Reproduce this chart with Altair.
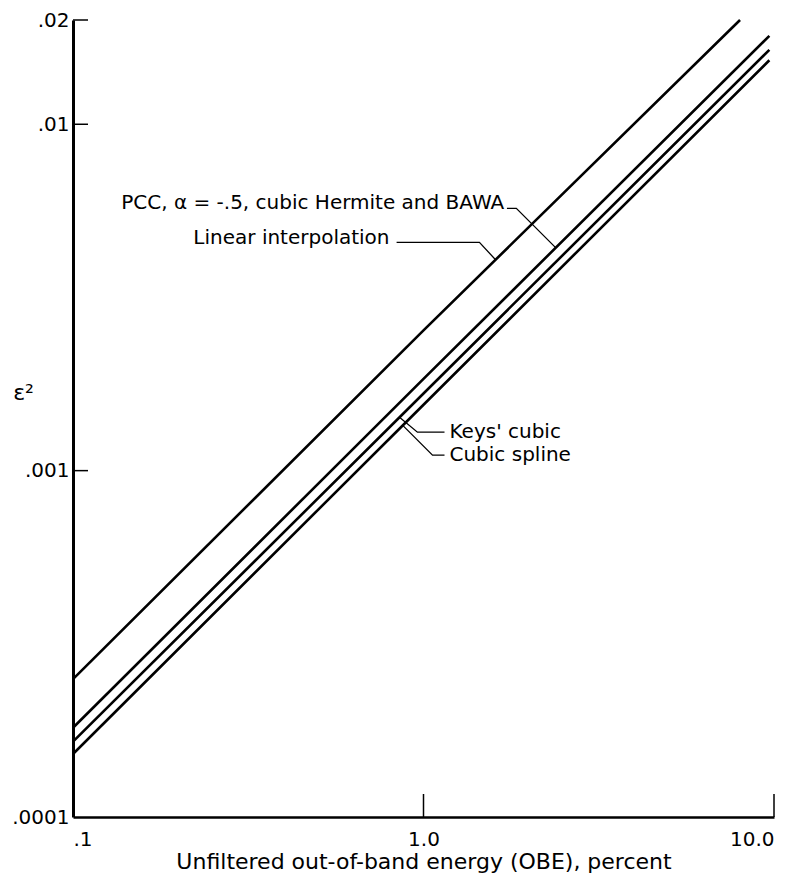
import altair as alt
import pandas as pd

# ---- data ----
series_names = ["Linear interpolation", "PCC", "Keys' cubic", "Cubic spline"]
linear_x = [0.1, 1.0, 8.0]
linear_y = [2.50e-4, 2.54e-3, 2.00e-2]
pcc_x = [0.1, 1.0, 9.7]
pcc_y = [1.81e-4, 1.84e-3, 1.80e-2]
keys_x = [0.1, 1.0, 9.7]
keys_y = [1.65e-4, 1.67e-3, 1.64e-2]
spline_x = [0.1, 1.0, 9.7]
spline_y = [1.52e-4, 1.55e-3, 1.53e-2]

x_ticks = [0.1, 1.0, 10.0]
y_ticks = [0.0001, 0.001, 0.01, 0.02]
x_inner_ticks = [1.0, 10.0]
y_inner_ticks = [0.001, 0.01, 0.02]

# annotation labels (data units)
label_right_text = ["PCC, α = -.5, cubic Hermite and BAWA", "Linear interpolation"]
label_right_x = [1.70, 0.80]
label_right_y = [5.92e-3, 4.69e-3]
label_left_text = ["Keys' cubic", "Cubic spline"]
label_left_x = [1.186, 1.186]
label_left_y = [1.291e-3, 1.108e-3]

# leader lines (data units)
leader_ids = ["pcc", "lin", "keys", "spl"]
leader_x = [[1.73, 1.84, 2.39], [0.838, 1.444, 1.603],
            [0.854, 0.961, 1.148], [0.871, 1.061, 1.148]]
leader_y = [[5.72e-3, 5.72e-3, 4.39e-3], [4.56e-3, 4.56e-3, 4.07e-3],
            [1.427e-3, 1.291e-3, 1.291e-3], [1.353e-3, 1.108e-3, 1.108e-3]]

FONT = "DejaVu Sans"

rows = []
for name, xs, ys in zip(series_names, [linear_x, pcc_x, keys_x, spline_x],
                        [linear_y, pcc_y, keys_y, spline_y]):
    for i, (a, b) in enumerate(zip(xs, ys)):
        rows.append({"series": name, "i": i, "x": a, "y": b})
lines_df = pd.DataFrame(rows)

lrows = []
for lid, xs, ys in zip(leader_ids, leader_x, leader_y):
    for i, (a, b) in enumerate(zip(xs, ys)):
        lrows.append({"id": lid, "i": i, "x": a, "y": b})
leader_df = pd.DataFrame(lrows)

x_scale = alt.Scale(type="log", domain=[0.1, 10], nice=False)
y_scale = alt.Scale(type="log", domain=[0.0001, 0.02], nice=False)

x_axis = alt.Axis(
    values=x_ticks,
    labelExpr="datum.value < 0.5 ? '.1' : datum.value < 5 ? '1.0' : '10.0'",
    ticks=False, grid=False, domainColor="black", domainWidth=2.5,
    labelFont=FONT, labelFontSize=20, labelColor="black", labelPadding=12,
    labelFlush=True,
    title="Unfiltered out-of-band energy (OBE), percent",
    titleFont=FONT, titleFontSize=22, titleFontWeight="normal", titleColor="black",
    titlePadding=2,
)
y_axis = alt.Axis(
    values=y_ticks,
    labelExpr="datum.value < 0.0005 ? '.0001' : datum.value < 0.005 ? '.001' : datum.value < 0.015 ? '.01' : '.02'",
    ticks=False, grid=False, domainColor="black", domainWidth=3,
    labelFont=FONT, labelFontSize=20, labelColor="black", labelPadding=4,
    labelFlush=False,
    title="ε²", titleAngle=0, titleFont=FONT, titleFontSize=22, titleFontWeight="normal",
    titleColor="black", titleX=-50, titleY=372, titleAlign="center", titleBaseline="middle",
)

lines = alt.Chart(lines_df).mark_line(color="black", strokeWidth=2.6).encode(
    x=alt.X("x:Q", scale=x_scale, axis=x_axis),
    y=alt.Y("y:Q", scale=y_scale, axis=y_axis),
    detail="series:N",
    order="i:O",
)

ytick_df = pd.DataFrame({"y": y_inner_ticks})
yticks = alt.Chart(ytick_df).mark_rule(color="black", strokeWidth=1.5).encode(
    y=alt.Y("y:Q", scale=y_scale),
    x=alt.value(0), x2=alt.value(15),
)
xtick_df = pd.DataFrame({"x": x_inner_ticks})
xticks = alt.Chart(xtick_df).mark_rule(color="black", strokeWidth=1.5).encode(
    x=alt.X("x:Q", scale=x_scale),
    y=alt.value(797), y2=alt.value(774),
)

leaders = alt.Chart(leader_df).mark_line(color="black", strokeWidth=1.3).encode(
    x=alt.X("x:Q", scale=x_scale),
    y=alt.Y("y:Q", scale=y_scale),
    detail="id:N", order="i:O",
)

rt_df = pd.DataFrame({"t": label_right_text, "x": label_right_x, "y": label_right_y})
rtext = alt.Chart(rt_df).mark_text(align="right", baseline="middle", font=FONT,
                                   fontSize=20, color="black").encode(
    x=alt.X("x:Q", scale=x_scale),
    y=alt.Y("y:Q", scale=y_scale),
    text="t:N",
)
lt_df = pd.DataFrame({"t": label_left_text, "x": label_left_x, "y": label_left_y})
ltext = alt.Chart(lt_df).mark_text(align="left", baseline="middle", font=FONT,
                                   fontSize=20, color="black").encode(
    x=alt.X("x:Q", scale=x_scale),
    y=alt.Y("y:Q", scale=y_scale),
    text="t:N",
)

chart = alt.layer(lines, yticks, xticks, leaders, rtext, ltext).properties(
    width=701, height=797,
    padding={"left": 65, "top": 12, "right": 16, "bottom": 59},
    autosize="none",
    background="white",
).configure_view(stroke=None)

chart.save("out.html", embed_options={"renderer": "svg", "actions": False})
